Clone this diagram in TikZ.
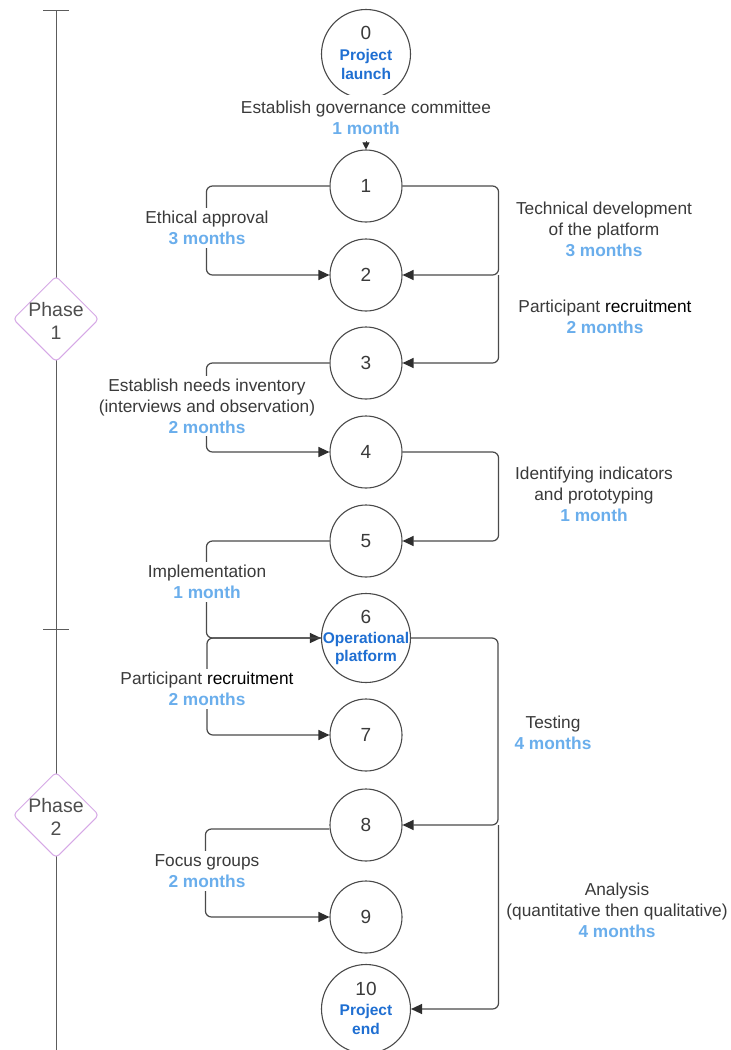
\documentclass[tikz,border=0pt]{standalone}
\usepackage{fontspec}
\setmainfont{Liberation Sans}
\usetikzlibrary{arrows.meta,shapes.geometric}
\definecolor{txt}{HTML}{3A3A3A}
\definecolor{mblue}{HTML}{6AAEEC}
\definecolor{pblue}{HTML}{1F6FD2}
\definecolor{lin}{HTML}{4A4A4A}
\definecolor{tip}{HTML}{2E2E2E}
\definecolor{phasec}{HTML}{D6A8E6}
\newcommand{\mths}[1]{{\color{mblue}\bfseries #1}}
\newcommand{\rec}{{\color{black}recruitment}}
\tikzset{
  base/.style={font=\fontsize{17.3}{21}\selectfont, text=txt},
  smallc/.style={circle, draw=lin, line width=1.1pt, minimum size=72pt, inner sep=0pt, fill=white},
  bigc/.style={circle, draw=lin, line width=1.1pt, minimum size=89pt, inner sep=0pt, fill=white},
  num/.style={font=\fontsize{19}{21}\selectfont, text=txt},
  ctext/.style={font=\fontsize{15.5}{18}\selectfont\bfseries, text=pblue, inner sep=0pt},
  lab/.style={base, align=center, inner sep=3pt},
  llab/.style={lab, fill=white},
  conn/.style={draw=lin, line width=1.2pt, rounded corners=6pt, -{Triangle[length=11pt,width=10pt,color=tip]}},
  phase/.style={diamond, draw=phasec, line width=1pt, fill=white, minimum width=86pt, minimum height=86pt, inner sep=0pt, rounded corners=4pt},
  ptext/.style={font=\fontsize{19.5}{23}\selectfont, text=txt!90, align=center},
  tl/.style={draw=lin!90, line width=0.9pt}
}
\begin{document}
\begin{tikzpicture}[x=1pt,y=-1pt]
\useasboundingbox[fill=white] (0,0) rectangle (731,1050);
% timeline
\coordinate (tltop) at (56,10);
\coordinate (tlbot) at (56,1050);
\draw[tl] (tltop) -- (tlbot);
\draw[tl] (43,10) -- (69,10);
\draw[tl] (43,629) -- (69,629);
\node[phase] (ph1) at (56,319) {};
\node[ptext] at ([yshift=-2pt]ph1.center) {Phase\\1};
\node[phase] (ph2) at (56,815) {};
\node[ptext] at ([yshift=-2pt]ph2.center) {Phase\\2};

% circles
\node[bigc] (n0) at (366,54) {};
\node[smallc] (n1) at (366,186) {};
\node[smallc] (n2) at (366,275) {};
\node[smallc] (n3) at (366,363) {};
\node[smallc] (n4) at (366,452) {};
\node[smallc] (n5) at (366,541) {};
\node[bigc] (n6) at (366,638) {};
\node[smallc] (n7) at (366,735) {};
\node[smallc] (n8) at (366,825) {};
\node[smallc] (n9) at (366,917) {};
\node[bigc] (n10) at (366,1009) {};

% connectors
\draw[draw=lin, line width=1pt, -{Triangle[length=7pt,width=7pt,color=tip]}] (n0.south) -- (n1.north);
\draw[conn] (n1.west) -- ++(-123,0) |- (n2.west);
\draw[conn] (n1.east) -- ++(96,0) |- (n2.east);
\draw[conn] ([xshift=96pt]n2.east) |- (n3.east);
\draw[conn] (n3.west) -- ++(-123,0) |- (n4.west);
\draw[conn] (n4.east) -- ++(96,0) |- (n5.east);
\draw[conn] (n5.west) -- ++(-123,0) |- (n6.west);
\draw[conn] (n6.west) -- ++(-114,0) |- (n7.west);
\draw[conn] (n6.east) -- ++(87,0) |- (n8.east);
\draw[conn] ([xshift=96pt]n8.east) |- (n10.east);
\draw[conn] ([yshift=-4pt]n8.west) -- ++(-124,0) |- (n9.west);

% circle texts
\node[num] at ([yshift=21pt]n0.center) {0};
\node[ctext] at ([yshift=-2pt]n0.center) {Project};
\node[ctext] at ([yshift=-20pt]n0.center) {launch};
\node[num] at (n1) {1};
\node[num] at (n2) {2};
\node[num] at (n3) {3};
\node[num] at (n4) {4};
\node[num] at (n5) {5};
\node[num] at ([yshift=21pt]n6.center) {6};
\node[ctext] at ([yshift=-1pt]n6.center) {Operational};
\node[ctext] at ([yshift=-19pt]n6.center) {platform};
\node[num] at (n7) {7};
\node[num] at (n8) {8};
\node[num] at (n9) {9};
\node[num] at ([yshift=20pt]n10.center) {10};
\node[ctext] at ([yshift=-2pt]n10.center) {Project};
\node[ctext] at ([yshift=-20pt]n10.center) {end};

% labels
\node[llab, inner ysep=6pt] (lgov) at (366,118) {Establish governance committee\\\mths{1 month}};
\node[llab] (leth) at (207,228) {Ethical approval\\\mths{3 months}};
\node[llab] (lneed) at (207,406) {Establish needs inventory\\(interviews and observation)\\\mths{2 months}};
\node[llab] (limp) at (207,582) {Implementation\\\mths{1 month}};
\node[llab] (lrec2) at (207,689) {Participant \rec\\\mths{2 months}};
\node[llab] (lfoc) at (207,871) {Focus groups\\\mths{2 months}};
\node[lab] (ltech) at (604,229) {Technical development\\of the platform\\\mths{3 months}};
\node[lab] (lrec1) at (605,317) {Participant \rec\\\mths{2 months}};
\node[lab] (lind) at (594,494) {Identifying indicators\\and prototyping\\\mths{1 month}};
\node[lab] (ltest) at (553,733) {Testing\\\mths{4 months}};
\node[lab] (lana) at (617,910) {Analysis\\(quantitative then qualitative)\\\mths{4 months}};
\end{tikzpicture}
\end{document}
